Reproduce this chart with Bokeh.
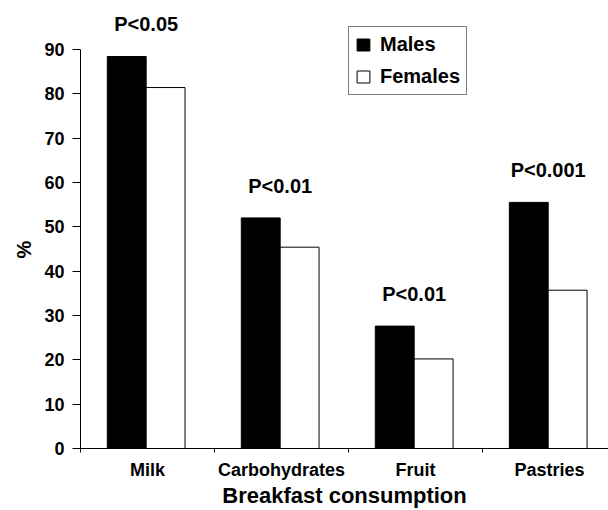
from bokeh.plotting import figure
from bokeh.models import (ColumnDataSource, FixedTicker, Range1d, Label, Legend, LegendItem, Title)
from bokeh.embed import file_html
from bokeh.resources import INLINE

categories = ["Milk", "Carbohydrates", "Fruit", "Pastries"]
males = [88.4, 52.0, 27.6, 55.5]
females = [81.4, 45.4, 20.2, 35.7]
p_values = ["P<0.05", "P<0.01", "P<0.01", "P<0.001"]
y_ticks = [0, 10, 20, 30, 40, 50, 60, 70, 80, 90]

FONT = "Liberation Sans"

idx = list(range(len(categories)))
src_m = ColumnDataSource(dict(x=[i + 0.345 for i in idx], top=males))
src_f = ColumnDataSource(dict(x=[i + 0.635 for i in idx], top=females))

p = figure(width=608, height=510, output_backend="svg", toolbar_location=None,
           x_range=Range1d(0, 3.94), y_range=Range1d(0, 99.9),
           min_border_left=80, min_border_right=0, min_border_top=5, min_border_bottom=61)
p.outline_line_color = None
p.grid.visible = False
p.background_fill_color = "white"
p.border_fill_color = "white"

rm = p.vbar(x="x", top="top", bottom=0, width=0.29, source=src_m,
            fill_color="black", line_color="black", line_width=1)
rf = p.vbar(x="x", top="top", bottom=0, width=0.29, source=src_f,
            fill_color="white", line_color="black", line_width=1)

# x axis
xa = p.xaxis[0]
xa.ticker = FixedTicker(ticks=[i + 0.5 for i in idx], minor_ticks=[0, 1, 2, 3, 4])
xa.major_label_overrides = {i + 0.5: c for i, c in enumerate(categories)}
xa.major_tick_out = 0
xa.major_tick_in = 0
xa.minor_tick_out = 4
xa.minor_tick_in = 0
xa.axis_line_color = "black"
xa.major_label_text_font = FONT
xa.major_label_text_font_style = "bold"
xa.major_label_text_font_size = "18px"
xa.major_label_text_color = "black"
xa.major_label_standoff = 7
xa.axis_label = "Breakfast consumption"
xa.axis_label_text_font = FONT
xa.axis_label_text_font_style = "bold"
xa.axis_label_text_font_size = "22px"
xa.axis_label_text_color = "black"
xa.axis_label_standoff = 0

# y axis
ya = p.yaxis[0]
ya.ticker = FixedTicker(ticks=y_ticks, minor_ticks=[])
ya.bounds = (0, 90)
ya.major_tick_out = 8
ya.major_tick_in = 0
ya.axis_line_color = "black"
ya.major_label_text_font = FONT
ya.major_label_text_font_style = "bold"
ya.major_label_text_font_size = "18px"
ya.major_label_text_color = "black"
ya.major_label_standoff = 8

ytitle = Title(text="%", align="left", offset=190, text_font=FONT,
               text_font_style="bold", text_font_size="20px", text_color="black",
               standoff=14)
p.add_layout(ytitle, "left")

for i in idx:
    p.add_layout(Label(x=i + 0.49, y=males[i], y_offset=32, text=p_values[i],
                       text_align="center", text_baseline="alphabetic",
                       text_font=FONT, text_font_style="bold",
                       text_font_size="20px", text_color="black"))

legend = Legend(items=[LegendItem(label="Males", renderers=[rm]),
                       LegendItem(label="Females", renderers=[rf])],
                location=(268, 353))
legend.label_text_font = FONT
legend.label_text_font_style = "bold"
legend.label_text_font_size = "20px"
legend.label_text_color = "black"
legend.glyph_width = 16
legend.glyph_height = 15
legend.label_height = 22
legend.label_standoff = 9
legend.spacing = 9
legend.padding = 6
legend.margin = 0
legend.border_line_color = "black"
legend.border_line_width = 1.5
legend.background_fill_alpha = 1
p.add_layout(legend, "center")

open("out.html", "w").write(file_html(p, INLINE))
